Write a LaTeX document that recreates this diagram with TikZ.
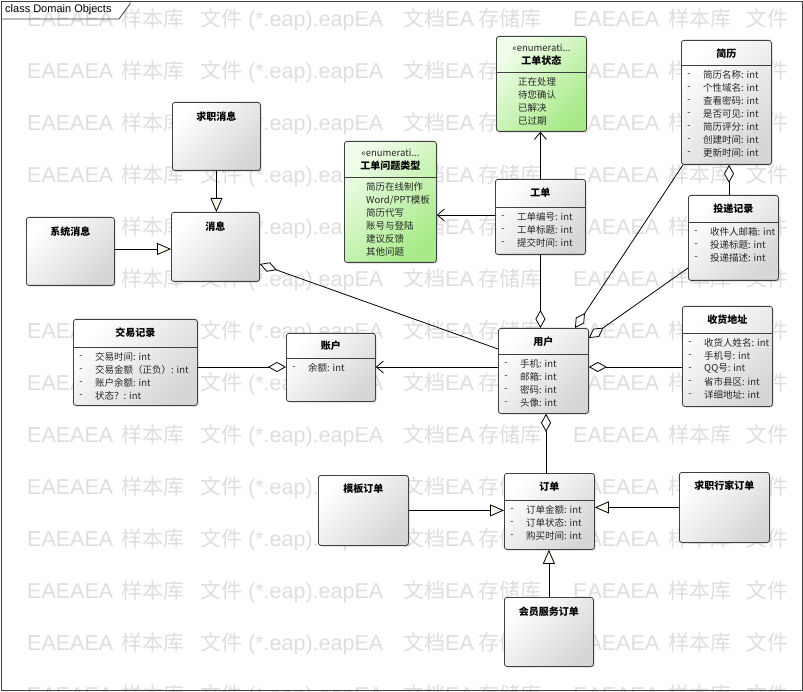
\documentclass[tikz,border=0pt]{standalone}
\usepackage{fontspec}
\setmainfont{Liberation Sans}
\newfontfamily\cjk{Noto Sans CJK SC}
\usetikzlibrary{arrows.meta,shadows,calc}
\definecolor{wmc}{HTML}{DEDEDE}
\definecolor{bordc}{HTML}{404040}
\definecolor{enA}{HTML}{F0FDEA}
\definecolor{enB}{HTML}{A8EA88}
\definecolor{genfill}{HTML}{FCFAEE}
\newcommand\wl[1]{{\fontsize{21.5}{24}\selectfont #1}}
\newcommand\wc[1]{{\cjk\fontsize{21}{24}\selectfont #1}}
\newcommand\wmline{%
\makebox[94pt][l]{\wl{EAEAEA}}%
\makebox[79pt][l]{\wc{样本库}}%
\makebox[48pt][l]{\wc{文件}}%
\makebox[155pt][l]{\wl{(*.eap).eapEA}}%
\makebox[75pt][l]{\wc{文档}\wl{EA}}%
\makebox[95pt][l]{\wc{存储库}}%
\makebox[95pt][l]{\wl{EAEAEA}}%
\makebox[78pt][l]{\wc{样本库}}%
\wc{文件}}
\tikzset{
  cls/.style={draw=bordc, line width=0.8pt, rounded corners=2.5pt, anchor=north west,
    inner sep=0pt, top color=white, bottom color=black!16, shading angle=45,
    drop shadow={opacity=0.3, shadow xshift=1.2pt, shadow yshift=-1.2pt}},
  enumc/.style={cls, top color=enA, bottom color=enB, shading angle=45},
  ttl/.style={font=\cjk\bfseries\fontsize{10}{12}\selectfont, inner sep=0pt},
  atx/.style={font=\cjk\fontsize{9.5}{11}\selectfont, inner sep=0pt, text=black!85},
  sepl/.style={draw=bordc, line width=0.7pt},
  gen/.style={-{Triangle[length=14pt,width=12pt,fill=genfill]}, line width=0.8pt},
  agg/.style={-{Diamond[length=18pt,width=10pt,fill=white]}, line width=0.8pt},
  nav/.style={-{Straight Barb[length=7pt,width=12pt]}, line width=0.8pt},
}
\newcommand\ctitle[3]{\node[ttl] (#1-t) at ($(#1.north)+(0,#2)$) {#3};}
\newcommand\cattrs[3]{%
  \draw[sepl] ($(#1.north west)+(0,#2)$) -- ($(#1.north east)+(0,#2)$);
  \foreach \itm [count=\i from 0] in {#3}{%
    \node[atx] (#1-d\i) at ($(#1.north west)+(8,#2+10+13*\i)$) {-};
    \node[atx, anchor=west] (#1-a\i) at ($(#1.north west)+(22,#2+10+13*\i)$) {\itm};
  }}
\newcommand\cenum[3]{%
  \node[atx] (#1-s) at ($(#1.north)+(0,12)$) {«enumerati...};
  \node[ttl] (#1-t) at ($(#1.north)+(0,25)$) {#2};
  \draw[sepl] ($(#1.north west)+(0,36)$) -- ($(#1.north east)+(0,36)$);
  \foreach \itm [count=\i from 0] in {#3}{%
    \node[atx, anchor=west] (#1-l\i) at ($(#1.north west)+(22,46+13*\i)$) {\itm};
  }}
\begin{document}
\begin{tikzpicture}[x=1pt, y=-1pt]
\useasboundingbox (0,0) rectangle (803,692);
\fill[white] (0,0) rectangle (803,692);
% watermark
\begin{scope}
\clip (0,0) rectangle (803,692);
\foreach \k in {0,...,13}{
  \node[anchor=west, inner sep=0pt, text=wmc] (wm\k) at (27,20+52*\k) {\wmline};
}
\end{scope}
% frame
\draw[bordc, line width=0.8pt] (1,1) rectangle (802,690);
\draw[bordc, line width=0.8pt] (1,19) -- (119,19) -- (130,4) -- (130,1);
\node[anchor=west, inner sep=0pt, font=\fontsize{11}{12}\selectfont] (hdr) at (5,10) {class Domain Objects};

% boxes
\node[cls, minimum width=88pt, minimum height=68pt] (jobmsg) at (172,102) {};
\node[cls, minimum width=88pt, minimum height=68pt] (sysmsg) at (26,217) {};
\node[cls, minimum width=88pt, minimum height=69pt] (msg) at (171,212) {};
\node[enumc, minimum width=92pt, minimum height=121pt] (ttype) at (344,141) {};
\node[enumc, minimum width=90pt, minimum height=95pt] (tstatus) at (496,36) {};
\node[cls, minimum width=90pt, minimum height=75pt] (ticket) at (495,179) {};
\node[cls, minimum width=90pt, minimum height=124pt] (resume) at (681,40) {};
\node[cls, minimum width=90pt, minimum height=85pt] (delivery) at (688,195) {};
\node[cls, minimum width=90pt, minimum height=85pt] (user) at (498,328) {};
\node[cls, minimum width=90pt, minimum height=100pt] (addr) at (682,306) {};
\node[cls, minimum width=89pt, minimum height=68pt] (account) at (286,333) {};
\node[cls, minimum width=124pt, minimum height=86pt] (trade) at (73,319) {};
\node[cls, minimum width=90pt, minimum height=76pt] (order) at (504,473) {};
\node[cls, minimum width=90pt, minimum height=70pt] (tpl) at (318,475) {};
\node[cls, minimum width=90pt, minimum height=70pt] (expert) at (679,472) {};
\node[cls, minimum width=89pt, minimum height=69pt] (member) at (504,597) {};

% texts
\ctitle{jobmsg}{15}{求职消息}
\ctitle{sysmsg}{15}{系统消息}
\ctitle{msg}{15}{消息}
\ctitle{tpl}{14}{模板订单}
\ctitle{expert}{14}{求职行家订单}
\ctitle{member}{15}{会员服务订单}
\cenum{ttype}{工单问题类型}{简历在线制作, Word/PPT模板, 简历代写, 账号与登陆, 建议反馈, 其他问题}
\cenum{tstatus}{工单状态}{正在处理, 待您确认, 已解决, 已过期}
\ctitle{ticket}{14}{工单}
\cattrs{ticket}{28}{工单编号: int, 工单标题: int, 提交时间: int}
\ctitle{resume}{14}{简历}
\cattrs{resume}{25}{简历名称: int, 个性域名: int, 查看密码: int, 是否可见: int, 简历评分: int, 创建时间: int, 更新时间: int}
\ctitle{delivery}{14}{投递记录}
\cattrs{delivery}{27}{收件人邮箱: int, 投递标题: int, 投递描述: int}
\ctitle{user}{14}{用户}
\cattrs{user}{26}{手机: int, 邮箱: int, 密码: int, 头像: int}
\ctitle{addr}{14}{收货地址}
\cattrs{addr}{27}{收货人姓名: int, 手机号: int, QQ号: int, 省市县区: int, 详细地址: int}
\ctitle{account}{13}{账户}
\cattrs{account}{25}{余额: int}
\ctitle{trade}{14}{交易记录}
\cattrs{trade}{28}{交易时间: int, 交易金额（正负）: int, 账户余额: int, 状态？: int}
\ctitle{order}{14}{订单}
\cattrs{order}{27}{订单金额: int, 订单状态: int, 购买时间: int}

% connectors
\draw[gen] (jobmsg.south) -- (jobmsg.south |- msg.north);
\coordinate (c2) at ($(sysmsg.north east)+(0,32)$);
\draw[gen] (c2) -- (c2 -| msg.west);
\draw[agg] ($(user.north west)+(0,21)$) -- ($(msg.north east)+(0,52)$);
\draw[nav] (ticket.north) -- (ticket.north |- tstatus.south);
\coordinate (c5) at ($(ticket.north west)+(0,36)$);
\draw[nav] (c5) -- (c5 -| ttype.east);
\draw[agg] (ticket.south) -- (ticket.south |- user.north);
\coordinate (c7) at ($(resume.south west)+(48,0)$);
\draw[agg] (c7 |- delivery.north) -- (c7);
\draw[agg] ($(resume.south west)+(2,0)$) -- ($(user.north west)+(77,0)$);
\draw[agg] ($(delivery.north west)+(0,73)$) -- ($(user.north east)+(0,10)$);
\coordinate (c10) at ($(user.north east)+(0,39)$);
\draw[agg] (c10 -| addr.west) -- (c10);
\coordinate (c11) at ($(user.north west)+(0,39)$);
\draw[nav] (c11) -- (c11 -| account.east);
\draw[agg] (c11 -| trade.east) -- (c11 -| account.west);
\coordinate (c13) at ($(user.south west)+(48,0)$);
\draw[agg] (c13 |- order.north) -- (c13);
\draw[gen] (tpl.east) -- (tpl.east -| order.west);
\draw[gen] (expert.west) -- (expert.west -| order.east);
\draw[gen] (member.north) -- (member.north |- order.south);
\end{tikzpicture}
\end{document}
